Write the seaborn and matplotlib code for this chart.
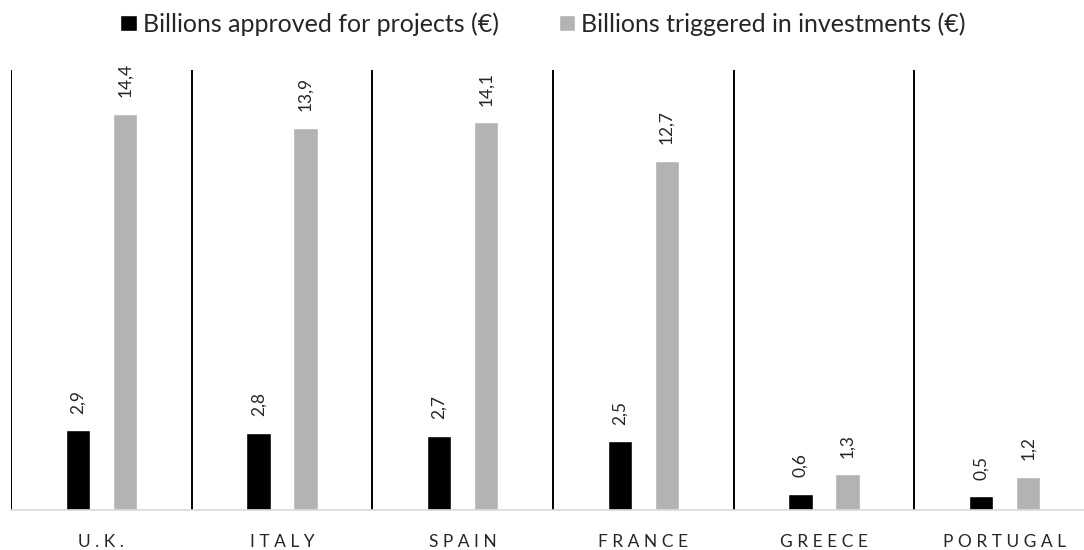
import pandas as pd
import seaborn as sns
import matplotlib.pyplot as plt

# === Data ===
countries = ['U.K.', 'ITALY', 'SPAIN', 'FRANCE', 'GREECE', 'PORTUGAL']
approved = [2.9, 2.8, 2.7, 2.5, 0.6, 0.5]
triggered = [14.4, 13.9, 14.1, 12.7, 1.3, 1.2]
series = ['Billions approved for projects (€)', 'Billions triggered in investments (€)']
colors = ['#000000', '#b3b3b3']

df = pd.DataFrame({
    'country': countries * 2,
    'value': approved + triggered,
    'series': [series[0]] * len(countries) + [series[1]] * len(countries),
})

# === Style ===
sns.set_style('white')
plt.rcParams['font.family'] = ['Lato', 'DejaVu Sans']

fig = plt.figure(figsize=(10.84, 5.5), dpi=100)
ax = fig.add_axes([11 / 1084, 40 / 550, 1073 / 1084, 440 / 550])

sns.barplot(data=df, x='country', y='value', hue='series', palette=colors,
            width=0.52, gap=0.48, saturation=1, ax=ax, legend=True)

ax.set_xlim(-0.5, 5.44)
ax.set_ylim(0, 16)

# value labels, comma decimals
for cont in ax.containers:
    for bar in cont:
        h = bar.get_height()
        ax.annotate(f"{h:.1f}".replace('.', ','),
                    (bar.get_x() + bar.get_width() / 2, h),
                    xytext=(0, 12), textcoords='offset points',
                    ha='center', va='bottom', rotation=90, fontsize=12.5)

# category separators
for i in range(len(countries)):
    ax.axvline(i - 0.5, color='black', lw=1.4, zorder=0)

# === Axes cosmetics ===
for s in ['top', 'right', 'left']:
    ax.spines[s].set_visible(False)
ax.spines['bottom'].set_color('#d9d9d9')
ax.spines['bottom'].set_linewidth(1.2)
ax.set_yticks([])
ax.set_xlabel('')
ax.set_ylabel('')
ax.set_xticks(range(len(countries)))
ax.set_xticklabels([' '.join(c) for c in countries], fontsize=12.5, color='#262626')
ax.tick_params(axis='x', length=0, pad=17)

# === Legend ===
ax.legend_.remove()
handles, labels = ax.get_legend_handles_labels()
fig.legend(handles, labels, loc='center', bbox_to_anchor=(543 / 1084, 1 - 24 / 550),
           ncol=2, frameon=False, fontsize=18, handlelength=0.65,
           handleheight=0.65, handletextpad=0.25, columnspacing=2.4,
           borderaxespad=0, borderpad=0)

plt.savefig('out.png', dpi=100)
plt.close()
